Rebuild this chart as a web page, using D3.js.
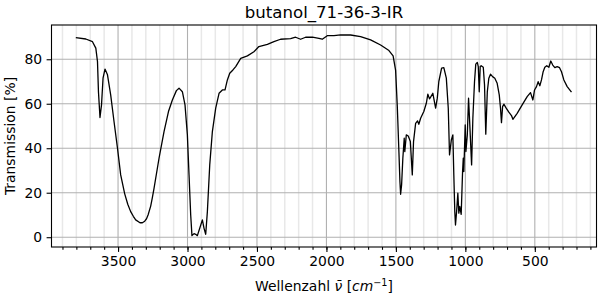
<!DOCTYPE html>
<html>
<head>
<meta charset="utf-8">
<script src="https://cdn.jsdelivr.net/npm/d3@7"></script>
<style>
  body { margin: 0; background: #fff; }
  text { font-family: "DejaVu Sans", sans-serif; fill: #000; }
</style>
</head>
<body>
<div id="chart"></div>
<script>
// spectrum
var wavenumbers = [
  3804, 3732, 3684, 3660, 3648, 3641, 3630, 3619, 3608, 3594, 3576, 3553, 3529, 3504,
  3481, 3465, 3452, 3430, 3409, 3390, 3373, 3342, 3325, 3308, 3295, 3284, 3265, 3253,
  3241, 3205, 3169, 3137, 3109, 3080,
  3061, 3037, 3018, 3001, 2989, 2977, 2968, 2953, 2941, 2929, 2912, 2893, 2881, 2869,
  2857, 2840, 2821, 2797, 2773, 2749, 2730, 2713, 2696, 2673, 2653, 2617, 2569, 2522,
  2486, 2425, 2378, 2330, 2258, 2222, 2186, 2150, 2101, 2054, 2030, 1994, 1946, 1898,
  1826, 1754, 1682, 1610, 1550, 1520, 1502, 1490, 1478, 1471, 1466, 1459, 1450, 1440,
  1436, 1425, 1411, 1396, 1382, 1373, 1358, 1344, 1335, 1322, 1299, 1281, 1270, 1258,
  1248, 1234, 1214, 1202, 1191, 1171, 1155, 1137, 1123, 1114, 1101, 1090, 1083, 1076,
  1071, 1063, 1054, 1047, 1040, 1030, 1020, 1015, 1011, 1001, 996, 986, 977, 968,
  955, 946, 934, 925, 914, 907, 900, 893, 886, 871, 862, 853, 842, 831,
  819, 804, 788, 771, 756, 747, 740, 732, 723, 706, 687, 668, 658, 627,
  591, 555, 531, 514, 502, 488, 476, 464, 452, 440, 428, 414, 399, 385,
  371, 356, 339, 322, 308, 291, 267, 236
];
var transmission = [
  89.7, 89.1, 87.9, 85.0, 79.0, 65.4, 53.8, 59.5, 71.5, 75.6, 73.0, 64.0, 52.0, 40.0,
  28.0, 23.3, 19.5, 14.8, 11.5, 9.4, 7.8, 6.5, 6.5, 7.2, 8.3, 10.0, 14.0, 17.8,
  22.0, 35.5, 47.5, 56.5, 61.7, 65.9,
  67.0, 65.4, 59.5, 46.0, 28.0, 10.0, 0.7, 1.6, 1.3, 0.7, 4.0, 7.8, 4.0, 1.3,
  11.5, 32.5, 47.5, 58.0, 64.7, 66.2, 66.2, 70.7, 73.7, 75.2, 76.7, 80.4, 81.5, 83.4,
  85.7, 86.7, 87.9, 89.0, 89.3, 89.9, 89.0, 89.9, 89.9, 89.4, 89.0, 90.6, 90.6, 91.0,
  90.9, 90.2, 88.7, 86.4, 83.9, 81.5, 75.0, 59.0, 38.0, 25.0, 19.3, 23.5, 35.5, 44.5,
  38.5, 46.0, 45.5, 43.0, 28.0, 43.0, 51.2, 52.3, 50.8, 53.5, 56.5, 60.2, 64.3, 62.2,
  63.2, 64.7, 58.0, 62.5, 70.0, 76.0, 76.2, 71.5, 58.0, 37.0, 43.7, 46.0, 28.0, 11.5,
  5.5, 11.5, 19.8, 10.8, 13.8, 10.3, 29.5, 35.5, 29.5, 50.5, 38.5, 46.0, 62.5, 50.5,
  32.5, 53.5, 70.0, 77.8, 78.6, 76.7, 65.4, 76.7, 77.1, 76.4, 68.4, 46.3, 65.4, 71.5,
  73.3, 72.2, 71.5, 69.2, 64.0, 58.0, 51.5, 58.7, 59.8, 58.0, 56.2, 54.7, 53.0, 55.7,
  59.5, 63.2, 65.0, 61.7, 66.2, 67.7, 69.9, 68.1, 70.7, 74.4, 76.4, 77.1, 76.4, 79.2,
  77.4, 76.2, 76.7, 76.2, 74.4, 70.7, 67.7, 65.2
];
var xTicks = [3500, 3000, 2500, 2000, 1500, 1000, 500];
var xMinorTicks = d3.range(100, 3901, 100);
var yTicks = [0, 20, 40, 60, 80];
var title = "butanol_71-36-3-IR";

var width = 600, height = 300;
var mLeft = 51.5, mRight = 596.5, mTop = 25, mBottom = 247;

var svg = d3.select("#chart").append("svg")
  .attr("width", width)
  .attr("height", height);

var x = d3.scaleLinear().domain([3979, 56]).range([mLeft, mRight]);
var y = d3.scaleLinear().domain([-4.4, 95.4]).range([mBottom, mTop]);

var points = wavenumbers.map(function(w, i) { return [w, transmission[i]]; });

// minor grid (x only)
svg.append("g").selectAll("line")
  .data(xMinorTicks.filter(function(t) { return xTicks.indexOf(t) < 0; }))
  .enter().append("line")
  .attr("x1", function(d) { return x(d); })
  .attr("x2", function(d) { return x(d); })
  .attr("y1", mTop).attr("y2", mBottom)
  .style("stroke", "#e8e8e8")
  .style("stroke-width", 1.5);

// major grid
svg.append("g").selectAll("line")
  .data(xTicks)
  .enter().append("line")
  .attr("x1", function(d) { return x(d); })
  .attr("x2", function(d) { return x(d); })
  .attr("y1", mTop).attr("y2", mBottom)
  .style("stroke", "#b0b0b0")
  .style("stroke-width", 1.1);
svg.append("g").selectAll("line")
  .data(yTicks)
  .enter().append("line")
  .attr("x1", mLeft).attr("x2", mRight)
  .attr("y1", function(d) { return y(d); })
  .attr("y2", function(d) { return y(d); })
  .style("stroke", "#b0b0b0")
  .style("stroke-width", 1.1);

// spectrum
var line = d3.line()
  .x(function(d) { return x(d[0]); })
  .y(function(d) { return y(d[1]); });
svg.append("path")
  .datum(points)
  .attr("d", line)
  .style("fill", "none")
  .style("stroke", "#000")
  .style("stroke-width", 1.3)
  .style("stroke-linejoin", "round");

// axes
var xAxis = d3.axisBottom(x).tickValues(xTicks).tickFormat(d3.format("d")).tickSize(4.9).tickPadding(4.5);
var xMinor = d3.axisBottom(x).tickValues(xMinorTicks).tickSize(2.8).tickFormat("");
var yAxis = d3.axisLeft(y).tickValues(yTicks).tickFormat(d3.format("d")).tickSize(4.9).tickPadding(4.5);

svg.append("g").attr("transform", "translate(0," + mBottom + ")").call(xMinor)
  .call(function(g) { g.select(".domain").remove(); });
var gx = svg.append("g").attr("transform", "translate(0," + mBottom + ")").call(xAxis);
var gy = svg.append("g").attr("transform", "translate(" + mLeft + ",0)").call(yAxis);
[gx, gy].forEach(function(g) {
  g.select(".domain").remove();
  g.selectAll("text").style("font-size", "13.9px").style("font-family", "DejaVu Sans");
});
svg.selectAll(".tick line").style("stroke", "#000").style("stroke-width", 1.1);

// frame
svg.append("rect")
  .attr("x", mLeft).attr("y", mTop)
  .attr("width", mRight - mLeft).attr("height", mBottom - mTop)
  .style("fill", "none")
  .style("stroke", "#000")
  .style("stroke-width", 1.1);

// labels
svg.append("text")
  .attr("x", (mLeft + mRight) / 2).attr("y", 18)
  .attr("text-anchor", "middle")
  .style("font-size", "16.6px")
  .text(title);

svg.append("text")
  .attr("transform", "translate(15," + ((mTop + mBottom) / 2) + ") rotate(-90)")
  .attr("text-anchor", "middle")
  .style("font-size", "13.9px")
  .text("Transmission [%]");

var xl = svg.append("text")
  .attr("x", (mLeft + mRight) / 2).attr("y", 291)
  .attr("text-anchor", "middle")
  .style("font-size", "13.9px");
xl.append("tspan").text("Wellenzahl ");
xl.append("tspan").style("font-style", "italic").text("\u03bd\u0304");
xl.append("tspan").text(" [");
xl.append("tspan").style("font-style", "italic").text("cm");
xl.append("tspan").attr("dy", -5).style("font-size", "9.7px").text("\u22121");
xl.append("tspan").attr("dy", 5).text("]");
</script>
</body>
</html>
